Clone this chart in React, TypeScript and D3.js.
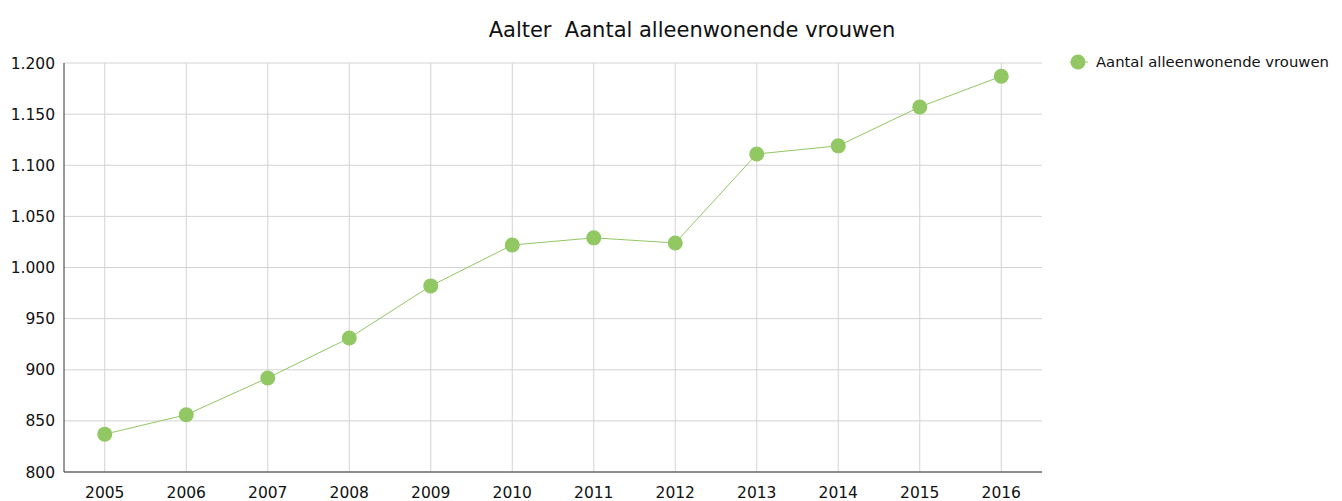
import React from "react";
import * as d3 from "d3";

const years = ["2005","2006","2007","2008","2009","2010","2011","2012","2013","2014","2015","2016"];
const values = [837, 856, 892, 931, 982, 1022, 1029, 1024, 1111, 1119, 1157, 1187];
const yTicks = [800, 850, 900, 950, 1000, 1050, 1100, 1150, 1200];
const title = "Aalter  Aantal alleenwonende vrouwen";
const seriesName = "Aantal alleenwonende vrouwen";

const W = 1342, H = 501;
const left = 64, right = 1042, top = 63, bottom = 472;
const green = "#92c863";
const font = "'DejaVu Sans', sans-serif";

const fmt = (v: number) => {
  const s = String(v);
  return s.length > 3 ? s.slice(0, s.length - 3) + "." + s.slice(-3) : s;
};

export default function App() {
  const x = d3.scalePoint<string>().domain(years).range([left, right]).padding(0.5);
  const y = d3.scaleLinear().domain([800, 1200]).range([bottom, top]);
  const line = d3.line<number>().x((_, i) => x(years[i])!).y((d) => y(d));
  return (
    <svg width={W} height={H} style={{ position: "absolute", left: 0, top: 0 }} fontFamily={font}>
      <rect width={W} height={H} fill="#fff" />
      <text x={692} y={37} textAnchor="middle" fontSize={21} fill="#111" style={{ whiteSpace: "pre" }}>{title}</text>
      {yTicks.map((t) => (
        <g key={t}>
          <line x1={left} x2={right} y1={y(t)} y2={y(t)} stroke="#d3d3d3" />
          <text x={55} y={y(t)} dy="0.36em" textAnchor="end" fontSize={15.5} fill="#111">{fmt(t)}</text>
        </g>
      ))}
      {years.map((yr) => (
        <g key={yr}>
          <line x1={x(yr)} x2={x(yr)} y1={top} y2={bottom} stroke="#d3d3d3" />
          <text x={x(yr)} y={498} textAnchor="middle" fontSize={15.5} fill="#111">{yr}</text>
        </g>
      ))}
      <line x1={left} x2={left} y1={top} y2={bottom} stroke="#333" />
      <line x1={left} x2={right} y1={bottom} y2={bottom} stroke="#333" />
      <path d={line(values) || ""} fill="none" stroke={green} strokeWidth={1} />
      {values.map((v, i) => (
        <circle key={i} cx={x(years[i])} cy={y(v)} r={7.5} fill={green} />
      ))}
      <line x1={1070} x2={1088} y1={62} y2={62} stroke={green} strokeWidth={1} />
      <circle cx={1078} cy={62} r={7.5} fill={green} />
      <text x={1096} y={62} dy="0.36em" fontSize={14.8} fill="#111">{seriesName}</text>
    </svg>
  );
}
